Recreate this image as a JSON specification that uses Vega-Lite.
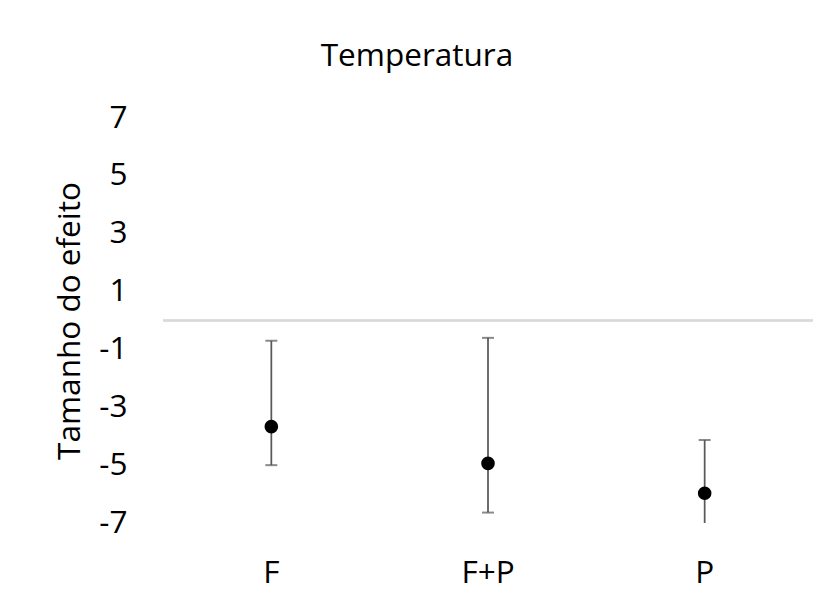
{
  "$schema": "https://vega.github.io/schema/vega-lite/v6.json",
  "autosize": "none",
  "width": 650,
  "height": 405,
  "padding": {"left": 163, "top": 118, "right": 17, "bottom": 80},
  "background": "white",
  "title": {
    "text": "Temperatura",
    "anchor": "middle",
    "frame": "group",
    "dx": -71,
    "offset": 30,
    "font": "Open Sans",
    "fontSize": 31.5,
    "fontWeight": "normal",
    "color": "#000000"
  },
  "config": {
    "view": {"stroke": null},
    "font": "Open Sans"
  },
  "data": {
    "values": [
      {"grupo": "F", "efeito": -3.67, "inferior": -5.0, "superior": -0.70},
      {"grupo": "F+P", "efeito": -4.94, "inferior": -6.64, "superior": -0.60},
      {"grupo": "P", "efeito": -5.97, "inferior": -7.4, "superior": -4.13}
    ]
  },
  "encoding": {
    "x": {
      "field": "grupo",
      "type": "nominal",
      "sort": ["F", "F+P", "P"],
      "scale": {"paddingInner": 0, "paddingOuter": 0},
      "axis": {
        "title": null,
        "domain": false,
        "ticks": false,
        "labelAngle": 0,
        "labelPadding": 34,
        "labelFontSize": 31.5,
        "labelColor": "#000000",
        "labelFont": "Open Sans"
      }
    }
  },
  "layer": [
    {
      "mark": {"type": "rule", "color": "#d9d9d9", "strokeWidth": 2},
      "encoding": {"y": {"datum": 0, "type": "quantitative", "scale": {"domain": [-7, 7], "nice": false, "zero": false}}, "x": null}
    },
    {
      "mark": {"type": "rule", "color": "#595959", "strokeWidth": 1.75, "clip": true},
      "encoding": {
        "y": {
          "field": "inferior",
          "type": "quantitative",
          "scale": {"domain": [-7, 7], "nice": false, "zero": false},
          "axis": {
            "title": "Tamanho do efeito",
            "values": [-7, -5, -3, -1, 1, 3, 5, 7],
            "labelExpr": "'' + datum.value",
            "domain": false,
            "ticks": false,
            "grid": false,
            "labelPadding": 36,
            "labelFontSize": 31.5,
            "labelFont": "Open Sans",
            "labelColor": "#000000",
            "titleFont": "Open Sans",
            "titleFontSize": 31.5,
            "titleFontWeight": "normal",
            "titleColor": "#000000",
            "titlePadding": 12
          }
        },
        "y2": {"field": "superior"}
      }
    },
    {
      "mark": {"type": "tick", "orient": "horizontal", "color": "#595959", "thickness": 2, "size": 12, "clip": true},
      "encoding": {"y": {"field": "inferior", "type": "quantitative"}}
    },
    {
      "mark": {"type": "tick", "orient": "horizontal", "color": "#595959", "thickness": 2, "size": 12, "clip": true},
      "encoding": {"y": {"field": "superior", "type": "quantitative"}}
    },
    {
      "mark": {"type": "circle", "color": "#000000", "opacity": 1, "size": 185},
      "encoding": {"y": {"field": "efeito", "type": "quantitative"}}
    }
  ]
}
